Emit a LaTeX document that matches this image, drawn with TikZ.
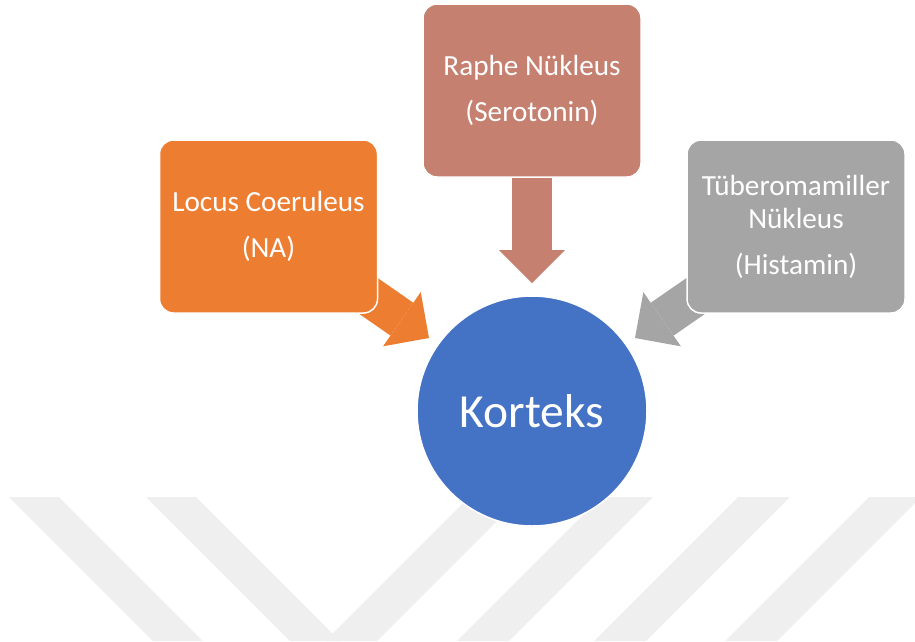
\documentclass[tikz,border=0pt]{standalone}
\usepackage{fontspec}
\setmainfont{Carlito}
\usetikzlibrary{arrows.meta, backgrounds}

\definecolor{locuscol}{HTML}{ED7D31}
\definecolor{raphecol}{HTML}{C58070}
\definecolor{tmcol}{HTML}{A5A5A5}
\definecolor{kortexcol}{HTML}{4472C4}
\definecolor{stripecol}{HTML}{EFEFEF}

\begin{document}
\begin{tikzpicture}[x=1pt, y=-1pt,
    nucbox/.style={draw=white, line width=1.5pt, rounded corners=14pt,
        minimum width=218pt, minimum height=173pt, inner sep=0pt,
        text=white, align=center, font=\fontsize{29.2}{33}\selectfont},
    flow/.style={#1, line width=40pt,
        -{Triangle[width=66pt, length=33pt, line width=0pt]}}]
    % page size
    \useasboundingbox (0,0) rectangle (915,641);

    % nuclei
    \node[nucbox, fill=locuscol] (lc) at (268.5,226.5) {Locus Coeruleus\\[13pt](NA)};
    \node[nucbox, fill=raphecol] (rn) at (532,90.5) {Raphe Nükleus\\[13pt](Serotonin)};
    \node[nucbox, fill=tmcol] (tmn) at (796,226.5) {Tüberomamiller\\Nükleus\\[13pt](Histamin)};

    % cortex
    \node[circle, fill=kortexcol, draw=white, line width=1.5pt, minimum size=230pt,
        inner sep=0pt, text=white, font=\fontsize{47.5}{56}\selectfont] (kx) at (532,411) {Korteks};

    % arrow tips
    \coordinate (lcTip) at (429,338);
    \coordinate (rnTip) at (532,283);
    \coordinate (tmnTip) at (635,338);

    \begin{scope}[on background layer]
        % watermark stripes
        \foreach \a in {9,146}
            \fill[stripecol] (\a,497) -- ++(50,0) -- ++(144,144) -- ++(-50,0) -- cycle;
        \foreach \a in {469,601,738,869}
            \fill[stripecol] (\a,497) -- ++(52,0) -- ++(-144,144) -- ++(-52,0) -- cycle;

        % block arrows
        \draw[flow=locuscol] (lc.center) -- (lcTip);
        \draw[flow=raphecol] (rn.center) -- (rnTip);
        \draw[flow=tmcol] (tmn.center) -- (tmnTip);
    \end{scope}
\end{tikzpicture}
\end{document}
